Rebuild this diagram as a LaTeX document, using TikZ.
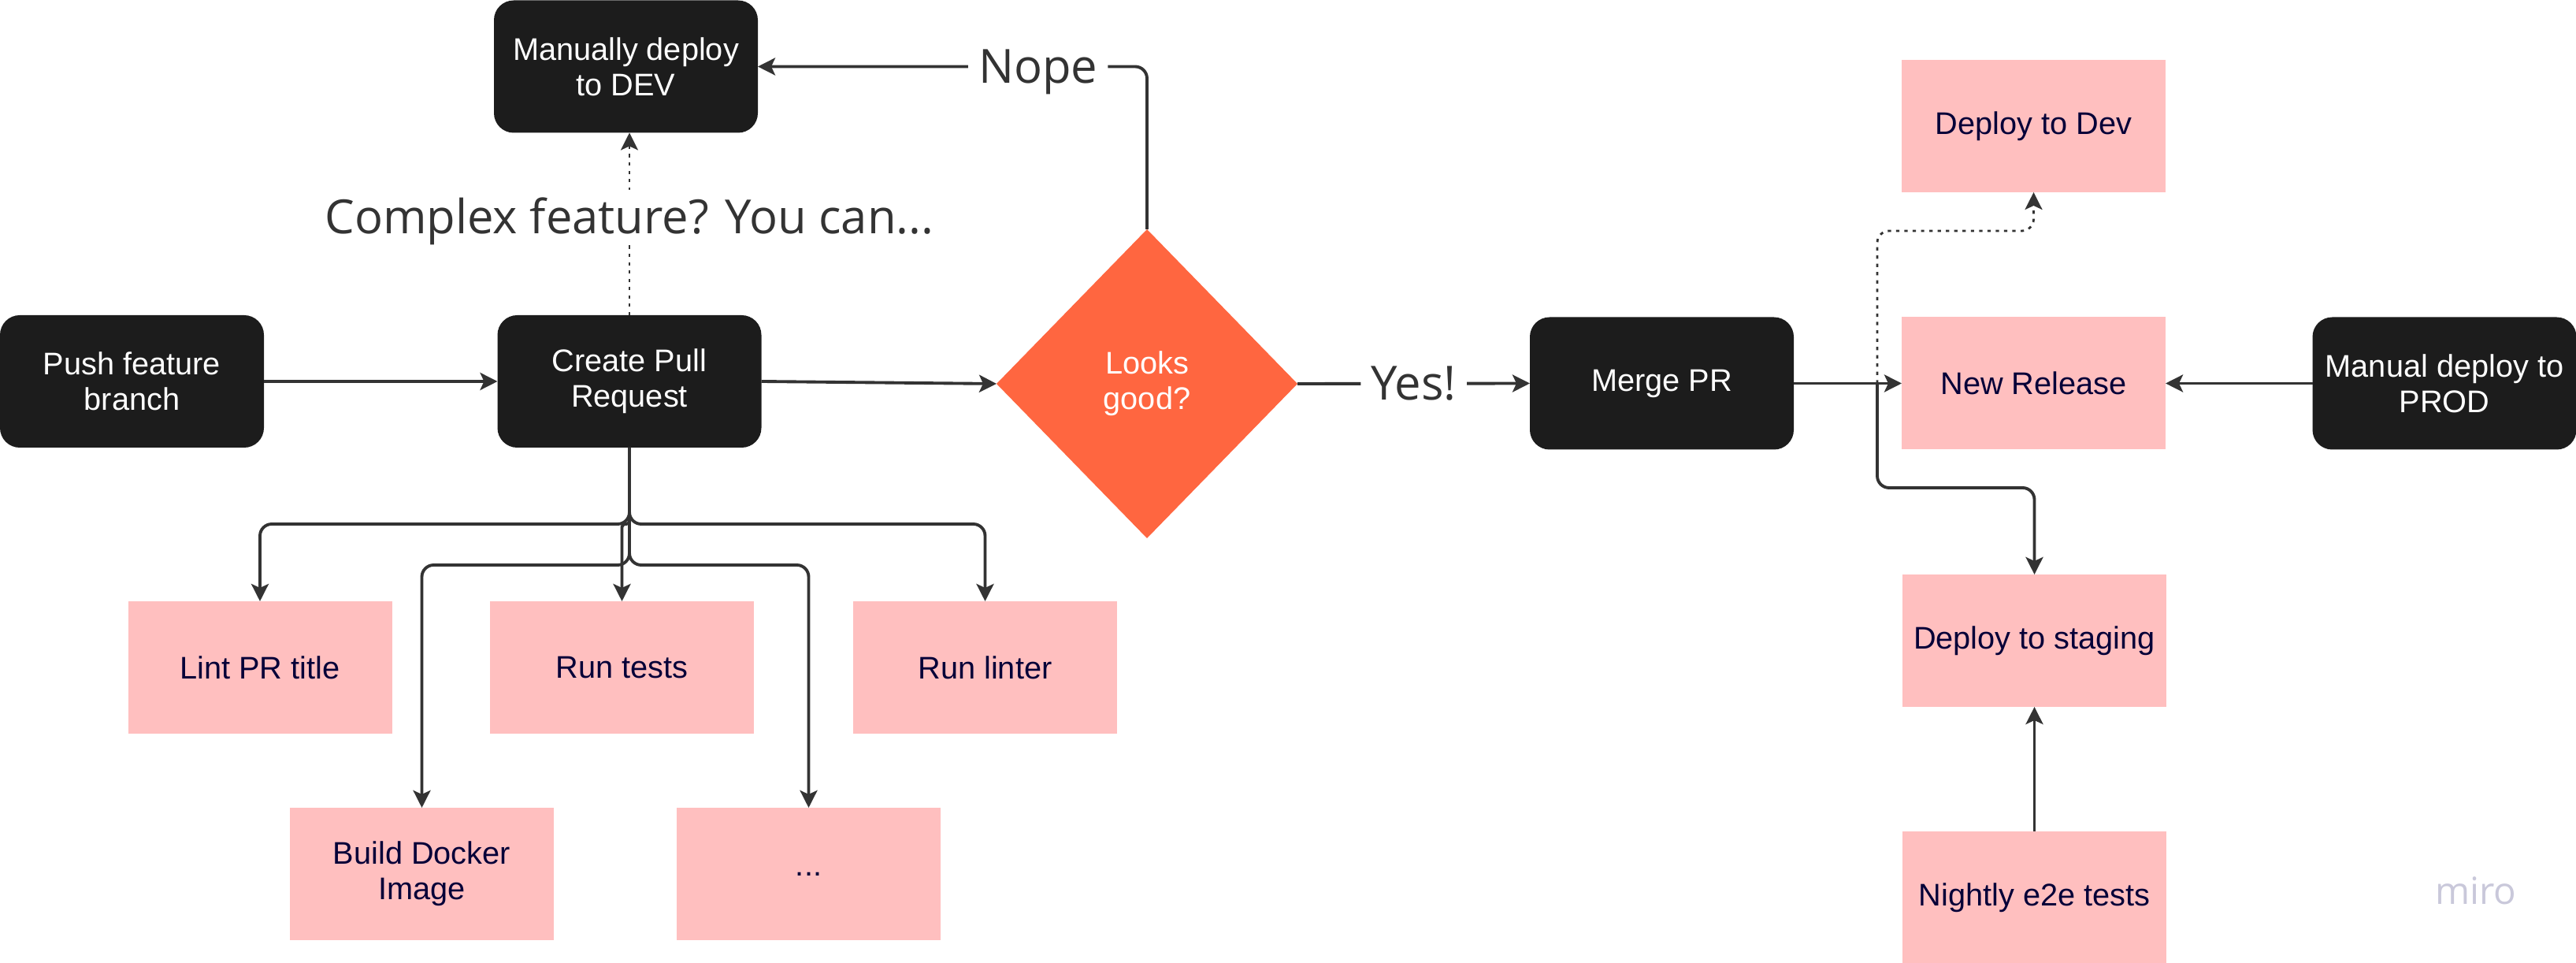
\documentclass[tikz,border=0pt]{standalone}
\usepackage{fontspec}
\setmainfont{Liberation Sans}
\newfontfamily\notefont{Open Sans}
\usepackage{xcolor}
\usetikzlibrary{arrows.meta, shapes.geometric}

\definecolor{boxdark}{HTML}{1C1C1C}
\definecolor{boxpink}{HTML}{FFBFBF}
\definecolor{decision}{HTML}{FF6640}
\definecolor{inkblue}{HTML}{050038}
\definecolor{wire}{HTML}{333333}
\definecolor{logogray}{HTML}{C9C8DA}

\begin{document}
\begin{tikzpicture}
            \tikzstyle{Box} = [inner sep=0cm, outer sep=0cm, minimum width=3.35cm, minimum height=1.68cm, align=center, font=\fontsize{11.3}{12.8}\selectfont]
            \tikzstyle{Dark Box} = [Box, fill=boxdark, rounded corners=0.25cm, text=white]
            \tikzstyle{Pink Box} = [Box, fill=boxpink, text=inkblue]
            \tikzstyle{Decision} = [diamond, fill=decision, text=white, inner sep=0cm, outer sep=0cm, minimum width=3.82cm, minimum height=3.92cm, align=center, font=\fontsize{11.3}{12.8}\selectfont]
            \tikzstyle{Edge} = [line width=1.1pt, color=wire, rounded corners=0.15cm, -{Stealth[length=0.22cm, width=0.22cm, inset=0.05cm]}]
            \tikzstyle{Dotted Edge} = [Edge, line width=0.8pt, dash pattern=on 1.2pt off 1.8pt]
            \tikzstyle{Note} = [fill=white, inner sep=0.13cm, text height=12pt, text depth=0pt, text=wire, font=\notefont\fontsize{17}{20}\selectfont]
            \useasboundingbox (0, 0) rectangle (32.7, -12.22);
            \node[Dark Box] (push) at (1.675, -4.84) {Push feature\\branch};
            \node[Dark Box] (pr) at (7.99, -4.84) {Create Pull\\Request};
            \node[Dark Box] (devmanual) at (7.945, -0.845) {Manually deploy\\to DEV};
            \node[Decision] (review) at (14.56, -4.87) {Looks\\good?};
            \node[Dark Box] (merge) at (21.095, -4.865) {Merge PR};
            \node[Pink Box] (release) at (25.815, -4.865) {New Release};
            \node[Pink Box] (devdeploy) at (25.815, -1.60) {Deploy to Dev};
            \node[Dark Box] (proddeploy) at (31.03, -4.865) {Manual deploy to\\PROD};
            \node[Pink Box] (staging) at (25.825, -8.13) {Deploy to staging};
            \node[Pink Box] (nightly) at (25.825, -11.39) {Nightly e2e tests};
            \node[Pink Box] (lint) at (3.30, -8.47) {Lint PR title};
            \node[Pink Box] (tests) at (7.895, -8.47) {Run tests};
            \node[Pink Box] (linter) at (12.505, -8.47) {Run linter};
            \node[Pink Box] (docker) at (5.355, -11.09) {Build Docker\\Image};
            \node[Pink Box] (more) at (10.265, -11.09) {...};
            \node[text=logogray, font=\notefont\fontsize{13.5}{16}\selectfont] (logo) at (31.43, -11.30) {miro};
            \coordinate (fork) at (23.83, -4.865);
            \draw[Edge] (push) -- (pr);
            \draw[Edge] (pr.east) -- (review.west);
            \draw[Dotted Edge] (pr.north) -- node[Note, pos=0.54] {Complex feature? You can...} (pr.north |- devmanual.south);
            \draw[Edge] (review.north) |- node[Note, pos=0.64] {Nope} (devmanual.east);
            \draw[Edge] (review.east) -- node[Note] {Yes!} (merge.west);
            \draw[Edge] (merge) -- (release);
            \draw[Edge] (proddeploy) -- (release);
            \draw[Dotted Edge] (fork) -- ++(0, 1.935) -| (devdeploy.south);
            \draw[Edge] (fork) -- ++(0, -1.325) -| (staging.north);
            \draw[Edge] (nightly) -- (staging);
            \foreach \target/\drop in {lint/0.97, linter/0.97, docker/1.49, more/1.49}
                \draw[Edge] (pr.south) -- ++(0, -\drop) -| (\target.north);
            \draw[Edge, rounded corners=0.04cm] (pr.south) -- ++(0, -0.97) -| (tests.north);
        \end{tikzpicture}
\end{document}
